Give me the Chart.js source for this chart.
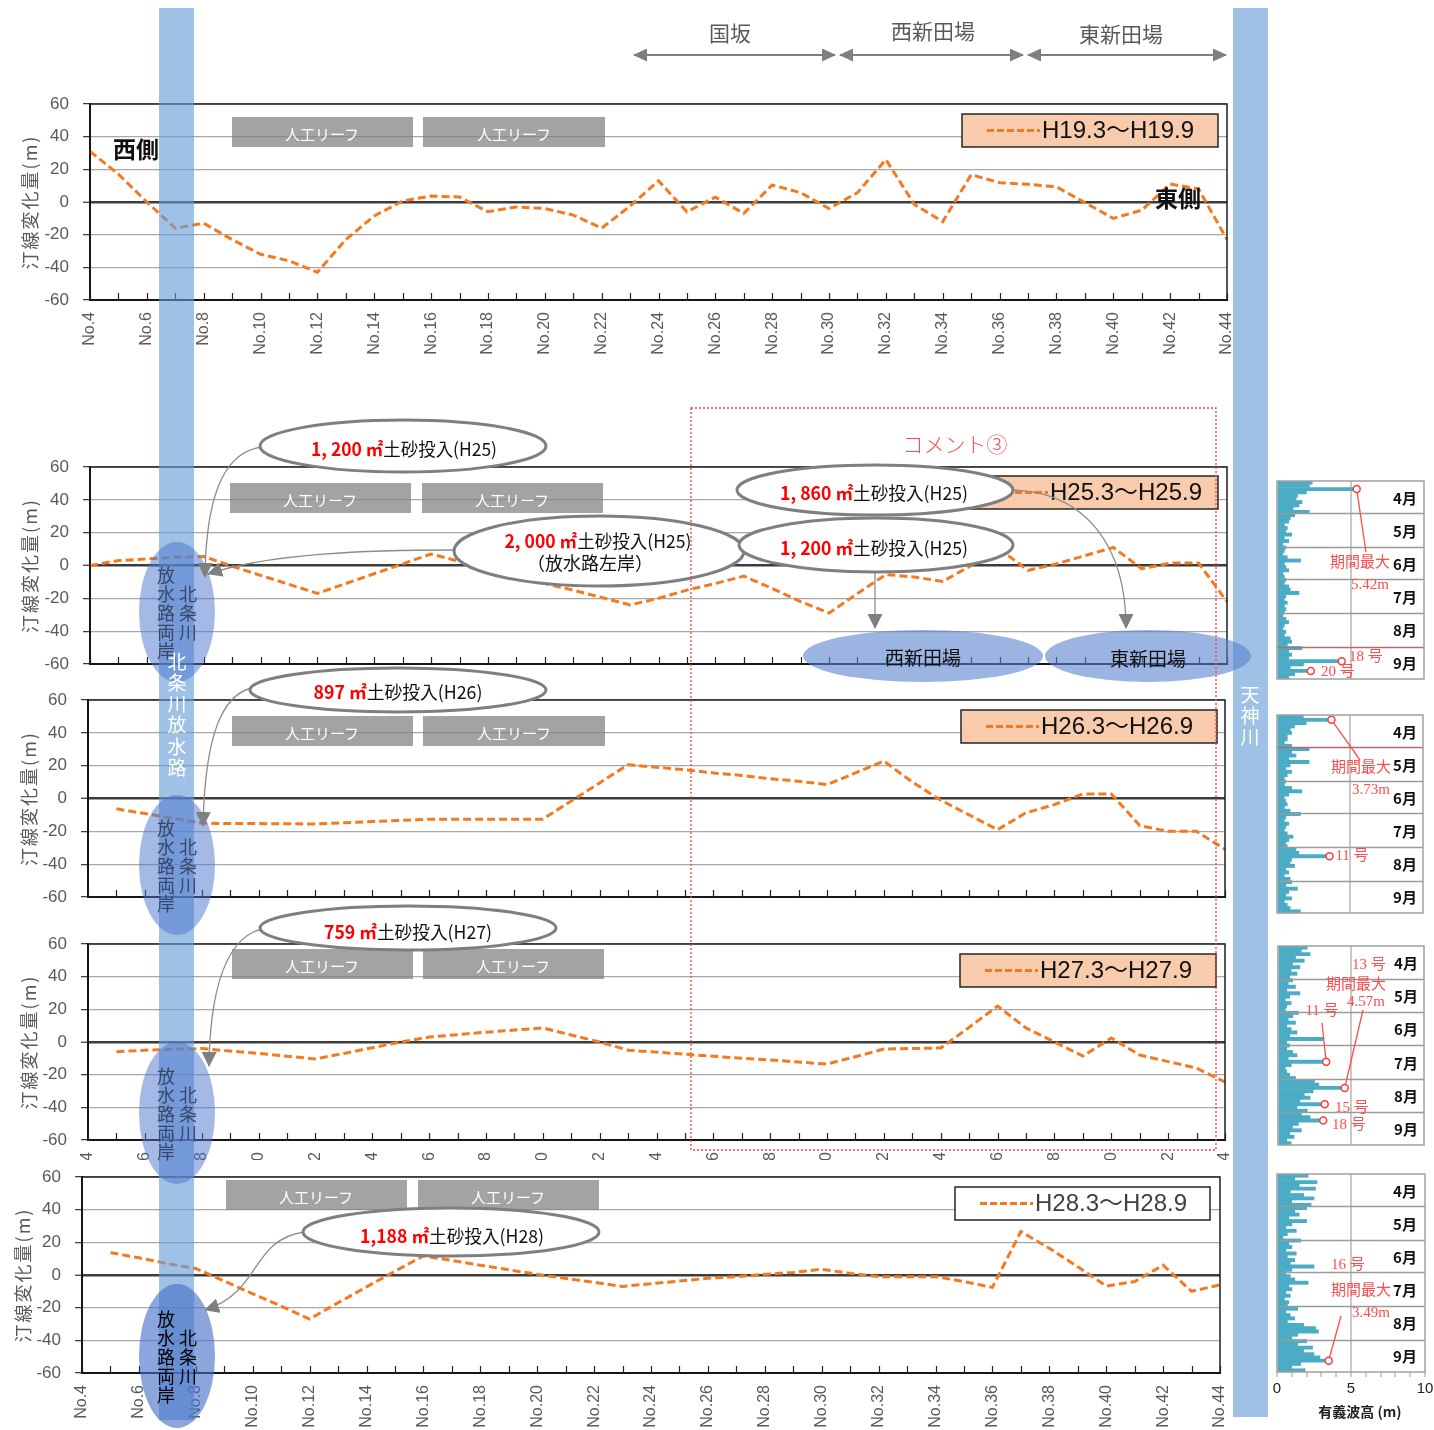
<!DOCTYPE html>
<html><head><meta charset="utf-8">
<script src="https://cdn.jsdelivr.net/npm/chart.js@4.4.1/dist/chart.umd.min.js"></script>
<style>
html,body{margin:0;padding:0;background:#fff;}
#page{position:relative;width:1434px;height:1430px;overflow:hidden;background:#fff;}
.box{position:absolute;}
.box canvas{display:block;}
#over{position:absolute;left:0;top:0;pointer-events:none;}
</style></head><body>
<div id="page">
  <div class="box" style="left:0;top:0"><canvas id="c1" width="1240" height="380"></canvas></div>
  <div class="box" style="left:0;top:380px"><canvas id="c2" width="1240" height="300"></canvas></div>
  <div class="box" style="left:0;top:680px"><canvas id="c3" width="1240" height="240"></canvas></div>
  <div class="box" style="left:0;top:920px"><canvas id="c4" width="1240" height="300"></canvas></div>
  <div class="box" style="left:0;top:1160px;background:#fff"><canvas id="c5" width="1240" height="270"></canvas></div>
  <div class="box" style="left:1270px;top:475px"><canvas id="w1" width="164" height="210"></canvas></div>
  <div class="box" style="left:1270px;top:709px"><canvas id="w2" width="164" height="210"></canvas></div>
  <div class="box" style="left:1270px;top:940px"><canvas id="w3" width="164" height="211"></canvas></div>
  <div class="box" style="left:1270px;top:1168px"><canvas id="w4" width="164" height="262"></canvas></div>

<svg id="over" width="1434" height="1430" viewBox="0 0 1434 1430" font-family="'Noto Sans CJK JP', sans-serif">
  <defs>
    <marker id="ah" markerUnits="userSpaceOnUse" markerWidth="15" markerHeight="15" viewBox="0 0 15 15" refX="14" refY="7.5" orient="auto"><path d="M0,0 L15,7.5 L0,15 z" fill="#7f7f7f"/></marker>
    <marker id="ah2" markerUnits="userSpaceOnUse" markerWidth="14" markerHeight="13" viewBox="0 0 14 13" refX="13" refY="6.5" orient="auto-start-reverse"><path d="M0,0 L14,6.5 L0,13 z" fill="#7f7f7f"/></marker>
  </defs>

  <!-- section arrows -->
  <g stroke="#7f7f7f" stroke-width="2" fill="none">
    <path d="M634,55 L835,55" marker-start="url(#ah2)" marker-end="url(#ah2)"/>
    <path d="M840,55 L1023,55" marker-start="url(#ah2)" marker-end="url(#ah2)"/>
    <path d="M1028,55 L1226,55" marker-start="url(#ah2)" marker-end="url(#ah2)"/>
  </g>
  <g font-size="21" fill="#595959" text-anchor="middle" dominant-baseline="central">
    <text x="730" y="32">国坂</text>
    <text x="933" y="30">西新田場</text>
    <text x="1121" y="33">東新田場</text>
  </g>

  <!-- artificial reefs -->
  <g fill="rgba(128,128,128,0.72)">
    <rect x="232" y="117" width="181" height="30"/><rect x="423" y="117" width="182" height="30"/>
    <rect x="230" y="483" width="181" height="30"/><rect x="422" y="483" width="181" height="30"/>
    <rect x="232" y="716" width="181" height="30"/><rect x="423" y="716" width="182" height="30"/>
    <rect x="232" y="949" width="181" height="30"/><rect x="423" y="949" width="181" height="30"/>
    <rect x="226" y="1180" width="181" height="30"/><rect x="418" y="1180" width="181" height="30"/>
  </g>
  <g font-size="15" fill="#ffffff" text-anchor="middle" dominant-baseline="central">
    <text x="322" y="133">人工リーフ</text><text x="514" y="133">人工リーフ</text>
    <text x="320" y="499">人工リーフ</text><text x="512" y="499">人工リーフ</text>
    <text x="322" y="732">人工リーフ</text><text x="514" y="732">人工リーフ</text>
    <text x="322" y="965">人工リーフ</text><text x="513" y="965">人工リーフ</text>
    <text x="316" y="1196">人工リーフ</text><text x="508" y="1196">人工リーフ</text>
  </g>

  <!-- river bands -->
  <rect x="159" y="8" width="35" height="1412" fill="rgba(100,155,215,0.62)"/>
  <rect x="1233" y="8" width="35" height="1409" fill="rgba(100,155,215,0.62)"/>

  <!-- river mouth ellipses -->
  <g fill="rgba(75,115,205,0.5)">
    <ellipse cx="177" cy="612" rx="38" ry="70"/>
    <ellipse cx="177" cy="865" rx="38" ry="70"/>
    <ellipse cx="177" cy="1113" rx="38" ry="71"/>
  </g>
  <ellipse cx="177" cy="1356" rx="38" ry="72" fill="rgba(70,110,200,0.62)"/>
  <g font-size="18" text-anchor="middle" dominant-baseline="central" fill="#3a4766">
    <text x="166" y="574">放</text><text x="166" y="593">水</text><text x="166" y="612">路</text><text x="166" y="631">両</text><text x="166" y="650">岸</text>
    <text x="188" y="593">北</text><text x="188" y="612">条</text><text x="188" y="631">川</text>
    <text x="166" y="827">放</text><text x="166" y="846">水</text><text x="166" y="865">路</text><text x="166" y="884">両</text><text x="166" y="903">岸</text>
    <text x="188" y="846">北</text><text x="188" y="865">条</text><text x="188" y="884">川</text>
    <text x="166" y="1075">放</text><text x="166" y="1094">水</text><text x="166" y="1113">路</text><text x="166" y="1132">両</text><text x="166" y="1151">岸</text>
    <text x="188" y="1094">北</text><text x="188" y="1113">条</text><text x="188" y="1132">川</text>
  </g>
  <g font-size="18" text-anchor="middle" dominant-baseline="central" fill="#000">
    <text x="166" y="1318">放</text><text x="166" y="1337">水</text><text x="166" y="1356">路</text><text x="166" y="1375">両</text><text x="166" y="1394">岸</text>
    <text x="188" y="1337">北</text><text x="188" y="1356">条</text><text x="188" y="1375">川</text>
  </g>
  <g font-size="19" text-anchor="middle" dominant-baseline="central" fill="#ffffff">
    <text x="177" y="660">北</text><text x="177" y="681">条</text><text x="177" y="702">川</text><text x="177" y="723">放</text><text x="177" y="745">水</text><text x="177" y="766">路</text>
    <text x="1250" y="693">天</text><text x="1250" y="714">神</text><text x="1250" y="735">川</text>
  </g>

  <!-- supply callouts: connectors -->
  <g stroke="#8c8c8c" stroke-width="1.3" fill="none">
    <path d="M262,447 C222,452 206,500 205,577" marker-end="url(#ah)"/>
    <path d="M455,550 C370,550 270,553 208,574" marker-end="url(#ah)"/>
    <path d="M1012,490 C1085,492 1126,545 1126,628" marker-end="url(#ah)"/>
    <path d="M875,572 L875,628" marker-end="url(#ah)"/>
    <path d="M251,688 C222,696 205,735 203,826" marker-end="url(#ah)"/>
    <path d="M262,929 C228,937 210,985 209,1066" marker-end="url(#ah)"/>
    <path d="M304,1232 C250,1240 262,1292 205,1310" marker-end="url(#ah)"/>
  </g>
  <g fill="#ffffff" stroke="#7f7f7f" stroke-width="3">
    <ellipse cx="403" cy="446" rx="143" ry="26"/>
    <ellipse cx="599" cy="551" rx="145" ry="35"/>
    <ellipse cx="875" cy="490" rx="138" ry="25"/>
    <ellipse cx="876" cy="545" rx="137" ry="27"/>
    <ellipse cx="398" cy="690" rx="148" ry="22"/>
    <ellipse cx="408" cy="928" rx="148" ry="22"/>
    <ellipse cx="451" cy="1232" rx="148" ry="24"/>
  </g>
  <g font-size="18" text-anchor="middle" dominant-baseline="central" fill="#111">
    <text x="404" y="448" textLength="186" lengthAdjust="spacingAndGlyphs"><tspan fill="#ff0000" font-weight="bold">1, 200 ㎡</tspan>土砂投入(H25)</text>
    <text x="598" y="540" textLength="187" lengthAdjust="spacingAndGlyphs"><tspan fill="#ff0000" font-weight="bold">2, 000 ㎡</tspan>土砂投入(H25)</text>
    <text x="590" y="562">（放水路左岸）</text>
    <text x="874" y="492" textLength="188" lengthAdjust="spacingAndGlyphs"><tspan fill="#ff0000" font-weight="bold">1, 860 ㎡</tspan>土砂投入(H25)</text>
    <text x="874" y="547" textLength="188" lengthAdjust="spacingAndGlyphs"><tspan fill="#ff0000" font-weight="bold">1, 200 ㎡</tspan>土砂投入(H25)</text>
    <text x="398" y="691" textLength="169" lengthAdjust="spacingAndGlyphs"><tspan fill="#ff0000" font-weight="bold">897 ㎡</tspan>土砂投入(H26)</text>
    <text x="408" y="931" textLength="168" lengthAdjust="spacingAndGlyphs"><tspan fill="#ff0000" font-weight="bold">759 ㎡</tspan>土砂投入(H27)</text>
    <text x="452" y="1235" textLength="184" lengthAdjust="spacingAndGlyphs"><tspan fill="#ff0000" font-weight="bold">1,188 ㎡</tspan>土砂投入(H28)</text>
  </g>

  <!-- target beaches -->
  <g fill="rgba(90,130,205,0.6)">
    <ellipse cx="923" cy="656" rx="120" ry="26"/>
    <ellipse cx="1148" cy="656" rx="103" ry="26"/>
  </g>
  <g font-size="19" text-anchor="middle" dominant-baseline="central" fill="#111">
    <text x="923" y="656">西新田場</text>
    <text x="1148" y="657">東新田場</text>
  </g>

  <!-- comment frame -->
  <rect x="691" y="408" width="525" height="742" fill="none" stroke="#ff3b3b" stroke-width="1.3" stroke-dasharray="2 2"/>
  <text x="955" y="443" font-size="21" font-weight="300" fill="#ff4d4d" text-anchor="middle" dominant-baseline="central">コメント③</text>

  <g font-size="23" font-weight="bold" fill="#111" text-anchor="middle" dominant-baseline="central">
    <text x="136" y="148">西側</text>
    <text x="1178" y="197">東側</text>
  </g>
</svg>
</div>

<script>
// Survey stations along the coast
const stations = ['No.4','No.5','No.6','No.7','No.8','No.9','No.10','No.11','No.12','No.13','No.14',
  'No.15','No.16','No.17','No.18','No.19','No.20','No.21','No.22','No.23','No.24','No.25','No.26',
  'No.27','No.28','No.29','No.30','No.31','No.32','No.33','No.34','No.35','No.36','No.37','No.38',
  'No.39','No.40','No.41','No.42','No.43','No.44'];

// Shoreline change (m), March -> September of each year
const h19 = [31,17,0,-16,-13,-23,-32,-36,-43,-23,-8.5,0.6,3.7,3,-6,-3,-4,-8,-16,-2.5,13,-6,3,-7,10.4,5.7,-4,5.7,26,-1.5,-12,16.7,11.8,10.8,9.3,-0.4,-10,-5,11,8,-23];
const h25 = [0,3,4,5,5.5,-0.5,-6,-11.5,-17,-11,-5,1,7,2.5,-2,-6.5,-11,-15,-19.5,-24,-20,-15,-11,-6.5,-14,-22,-29,-17,-5.5,-7,-9.7,0,10,-3,1,6,11,-2,1.5,1.5,-22];
const h26 = [null,-6.3,-9.2,-12,-15,-15.3,-15.3,-15.4,-15.5,-14.8,-14,-13.3,-12.6,-12.6,-12.6,-12.6,-12.6,-1.5,9.5,20.6,19,17.5,15.6,14,12,10.5,8.5,15.6,22.8,10,-1,-10,-19,-8.7,-3.7,2.8,2.8,-16.5,-20,-20,-31];
const h27 = [null,-6,-5,-4.5,-4,-5.5,-7,-8.7,-10.4,-7,-3.5,0,3,4.5,6,7.3,8.6,4.3,0,-5,-6.2,-7.5,-8.7,-10,-11,-12.3,-13.5,-9,-4.3,-4,-3.7,9,22,8.6,0,-8.6,2.4,-8,-12,-16,-24.5];
const h28 = [null,13.7,10.5,7,4,-3.7,-11.5,-19,-27,-17,-7.3,2.3,11.7,8.9,6,3.2,0.4,-2.1,-4.5,-7,-5.3,-3.7,-2,-1,0.4,1.6,3.5,1,-1,-1,-1,-4,-7.6,26.6,16.4,5,-6.8,-4,6,-10,-6];

// Significant wave height (m), April -> September, one value per 3 days
const wave25 = [2.4,2.2,5.42,2.0,1.4,1.3,1.7,1.5,1.1,2.2, 1.2,0.9,0.8,0.5,0.7,0.6,1.0,0.5,0.8,0.4, 0.6,0.5,0.4,0.7,1.6,0.5,0.6,0.8,0.4,0.5, 0.6,0.5,0.8,0.9,1.5,0.6,0.5,0.7,0.5,0.6, 0.5,0.4,0.6,0.8,0.5,0.4,0.6,0.5,0.9,1.0,0.7, 1.7,0.8,1.0,0.8,4.4,1.8,0.9,2.3,1.2,0.8];
const wave26 = [1.8,3.73,2.0,1.2,0.9,1.0,0.7,0.7,0.5,1.0, 2.2,1.0,1.3,0.8,2.2,0.9,0.6,1.0,0.7,0.5, 0.6,0.5,1.0,1.7,0.8,0.5,0.6,0.7,0.5,0.9, 1.6,0.6,0.5,0.8,0.6,0.5,0.7,1.1,0.8,0.6, 0.7,1.3,1.5,3.6,1.0,0.9,1.2,0.6,0.8,0.5,0.9, 1.0,0.6,1.4,0.8,0.6,1.0,0.5,0.7,0.9,1.6];
const wave27 = [2.0,1.6,2.2,1.2,1.8,1.0,1.5,0.9,1.3,0.8, 1.0,0.7,1.2,0.6,1.5,0.8,0.5,0.9,0.6,0.5, 1.4,1.0,0.7,1.2,0.6,0.9,1.3,0.8,3.1,0.6, 0.8,0.6,1.0,1.3,0.7,3.3,0.9,0.5,0.6,0.8, 1.2,2.5,2.8,4.57,2.4,1.8,2.2,1.5,3.2,1.3,2.0, 1.6,2.2,3.1,1.4,1.0,1.6,0.8,1.1,0.6,0.9];
const wave28 = [2.1,1.2,2.7,1.5,2.6,0.9,1.8,2.5,1.0,2.3, 2.0,1.2,1.5,0.8,2.0,1.0,0.6,1.3,0.7,0.4, 1.6,0.8,1.0,0.6,1.3,0.7,1.2,0.9,2.5,1.0, 0.6,0.9,1.2,2.1,0.8,1.0,0.6,0.9,0.5,0.8, 0.7,1.4,0.6,0.9,1.2,0.7,1.8,2.6,2.8,1.4,1.0, 2.0,1.4,2.4,1.8,2.5,2.9,3.49,1.6,1.0,1.9];

// Typhoon / period-maximum slots marked with circles
const peak25 = [2, 55, 58];
const peak26 = [1, 43];
const peak27 = [35, 43, 48, 53];
const peak28 = [57];

const months = ['4月','5月','6月','7月','8月','9月'];
const monthDays = [30, 31, 30, 31, 31, 30];

const ORANGE = '#f57a1f';
const SANS = '"Liberation Sans", Arial, sans-serif';
const CJK = '"Noto Sans CJK JP", sans-serif';

const framePlugin = {
  id: 'frame',
  afterDraw(chart, args, o) {
    const {ctx, chartArea: a} = chart;
    const x = chart.scales.x;
    ctx.save();
    ctx.strokeStyle = '#1e1e1e'; ctx.lineWidth = 1.5;
    ctx.strokeRect(a.left, a.top, a.width, a.height);
    ctx.strokeStyle = '#222'; ctx.lineWidth = 1.2;
    x.ticks.forEach((t, i) => {
      const px = Math.round(x.getPixelForTick(i)) + 0.5;
      ctx.beginPath(); ctx.moveTo(px, a.bottom); ctx.lineTo(px, a.bottom - 7); ctx.stroke();
    });
    ctx.save();
    ctx.translate(o.titleX, (a.top + a.bottom) / 2);
    ctx.rotate(-Math.PI / 2);
    ctx.fillStyle = '#595959'; ctx.font = '18px ' + CJK;
    ctx.letterSpacing = '2px';
    ctx.textAlign = 'center'; ctx.textBaseline = 'middle';
    ctx.fillText('汀線変化量(m)', 0, 0);
    ctx.restore();
    const L = o.legend;
    const bx = a.right - L.right - L.w, by = a.top + L.top;
    ctx.fillStyle = L.fill; ctx.fillRect(bx, by, L.w, L.h);
    ctx.strokeStyle = '#262626'; ctx.lineWidth = 1.5; ctx.strokeRect(bx, by, L.w, L.h);
    const ds = chart.data.datasets[0];
    ctx.strokeStyle = ds.borderColor; ctx.lineWidth = 3; ctx.setLineDash([7, 3]);
    ctx.beginPath(); ctx.moveTo(bx + 25, by + L.h / 2); ctx.lineTo(bx + 78, by + L.h / 2); ctx.stroke();
    ctx.setLineDash([]);
    ctx.fillStyle = L.color; ctx.font = '24px ' + SANS + ',"Noto Sans CJK JP"';
    ctx.textAlign = 'left'; ctx.textBaseline = 'middle';
    ctx.fillText(ds.label, bx + 80, by + L.h / 2 + 1);
    ctx.restore();
  }
};

function shoreChart(id, label, values, c) {
  return new Chart(document.getElementById(id), {
    type: 'line',
    data: { labels: stations, datasets: [{
      label, data: values, borderColor: ORANGE, borderWidth: 3, borderDash: [8, 4],
      pointRadius: 0, fill: false, tension: 0
    }]},
    options: {
      responsive: false, animation: false, devicePixelRatio: 1,
      layout: { padding: { top: c.padTop, right: c.padRight, left: 0, bottom: 0 } },
      plugins: { legend: { display: false }, tooltip: { enabled: false },
        frame: { titleX: c.titleX, legend: c.legend } },
      scales: {
        x: {
          type: 'category', offset: false,
          afterFit(s) { s.height = c.xH; s.paddingLeft = 0; s.paddingRight = 0; },
          grid: { display: false, drawTicks: false },
          border: { display: true, color: '#000', width: 2 },
          ticks: { display: c.showX, autoSkip: false, minRotation: 90, maxRotation: 90, padding: 12,
            color: '#595959', font: { family: SANS, size: 16 },
            callback(v, i) { return i % 2 === 0 ? stations[i] : ''; } }
        },
        y: {
          min: -60, max: 60,
          afterFit(s) { s.width = c.yW; s.paddingTop = 0; s.paddingBottom = 0; },
          border: { display: true, color: '#000', width: 2 },
          ticks: { stepSize: 10, padding: 14, color: '#595959', font: { family: SANS, size: 17 },
            callback(v) { return v % 20 === 0 ? String(v) : ''; } },
          grid: {
            color(ctx) { const v = ctx.tick.value; return v === 0 ? '#3c3c3c' : (v % 20 === 0 ? '#a8a8a8' : 'rgba(0,0,0,0)'); },
            lineWidth(ctx) { return ctx.tick.value === 0 ? 2.5 : 1.3; },
            tickColor: '#333', tickLength: 7, tickWidth: 1.2, drawTicks: true
          }
        }
      }
    },
    plugins: [framePlugin]
  });
}

const peachLegend = (top, right) => ({ w: 256, h: 33, top, right, fill: '#f8cbad', color: '#111' });
shoreChart('c1', 'H19.3～H19.9', h19, { padTop: 104, padRight: 13, xH: 80, yW: 90, showX: true, titleX: 30, legend: peachLegend(10, 9) });
shoreChart('c2', 'H25.3～H25.9', h25, { padTop: 87, padRight: 13, xH: 16, yW: 90, showX: false, titleX: 30, legend: { w: 248, h: 33, top: 9, right: 9, fill: '#f8cbad', color: '#111' } });
shoreChart('c3', 'H26.3～H26.9', h26, { padTop: 20, padRight: 15, xH: 23, yW: 88, showX: false, titleX: 29, legend: peachLegend(10, 8) });
shoreChart('c4', 'H27.3～H27.9', h27, { padTop: 24, padRight: 15, xH: 80, yW: 88, showX: true, titleX: 29, legend: peachLegend(10, 9) });
shoreChart('c5', 'H28.3～H28.9', h28, { padTop: 17, padRight: 20, xH: 57, yW: 82, showX: true, titleX: 23, legend: { w: 255, h: 33, top: 10, right: 10, fill: '#ffffff', color: '#404040' } });

// Wave height panels
const wavePlugin = {
  id: 'wave',
  afterDatasetsDraw(chart, args, o) {
    const {ctx, chartArea: a} = chart;
    const total = monthDays.reduce((s, d) => s + d, 0);
    ctx.save();
    let acc = 0;
    monthDays.slice(0, -1).forEach((d, i) => {
      acc += d;
      const y = Math.round(a.top + acc / total * a.height) + 0.5;
      ctx.strokeStyle = (o.redLines || []).includes(i) ? '#b86a6a' : '#9a9a9a';
      ctx.lineWidth = 1.5;
      ctx.beginPath(); ctx.moveTo(a.left, y); ctx.lineTo(a.right, y); ctx.stroke();
    });
    ctx.restore();
  },
  afterDraw(chart, args, o) {
    const {ctx, chartArea: a, scales} = chart;
    const total = monthDays.reduce((s, d) => s + d, 0);
    const vals = chart.data.datasets[1].data;
    ctx.save();
    ctx.strokeStyle = '#a0a0a0'; ctx.lineWidth = 1.5;
    ctx.strokeRect(a.left, a.top, a.width, a.height);
    ctx.fillStyle = '#111'; ctx.font = 'bold 15px ' + CJK;
    ctx.textAlign = 'center'; ctx.textBaseline = 'middle';
    let acc = 0;
    months.forEach((m, i) => {
      const mid = acc + monthDays[i] / 2; acc += monthDays[i];
      ctx.fillText(m, a.left + 128, a.top + mid / total * a.height + 1);
    });
    ctx.strokeStyle = '#ff4d4d'; ctx.lineWidth = 1.3;
    (o.leaders || []).forEach(([dx, dy, k]) => {
      const px = scales.x.getPixelForValue(vals[k]);
      const py = scales.y.getPixelForValue(k);
      const ang = Math.atan2(a.top + dy - py, a.left + dx - px);
      ctx.beginPath(); ctx.moveTo(a.left + dx, a.top + dy);
      ctx.lineTo(px + 3.5 * Math.cos(ang), py + 3.5 * Math.sin(ang)); ctx.stroke();
    });
    ctx.fillStyle = '#ff4d4d'; ctx.font = '15px "Liberation Serif", "Noto Sans CJK JP", serif';
    (o.notes || []).forEach(([t, dx, dy]) => ctx.fillText(t, a.left + dx, a.top + dy));
    if (o.axisTitle) {
      ctx.fillStyle = '#222'; ctx.font = 'bold 14px ' + CJK;
      ctx.fillText(o.axisTitle, a.left + 83, a.bottom + 40);
    }
    ctx.restore();
  }
};

function waveChart(id, values, peaks, c) {
  const slots = values.map((v, k) => k);
  const marks = values.map((v, k) => peaks.includes(k) ? v : null);
  return new Chart(document.getElementById(id), {
    type: 'bar',
    data: { labels: slots, datasets: [
      { type: 'line', indexAxis: 'y', data: marks, showLine: false, pointRadius: 3.5, pointBorderWidth: 1.5,
        pointBorderColor: '#ff3b3b', pointBackgroundColor: '#ffffff', order: 0 },
      { type: 'bar', data: values, backgroundColor: '#4bacc6', barPercentage: 1, categoryPercentage: 1, order: 1 }
    ]},
    options: {
      indexAxis: 'y', responsive: false, animation: false, devicePixelRatio: 1,
      layout: { padding: c.pad },
      plugins: { legend: { display: false }, tooltip: { enabled: false }, wave: c.wave },
      scales: {
        x: {
          min: 0, max: 10,
          afterFit(s) { s.height = c.xH; s.paddingLeft = 0; s.paddingRight = 0; },
          border: { display: false },
          grid: {
            color(ctx) { return ctx.tick.value === 5 ? '#c8c8c8' : 'rgba(0,0,0,0)'; },
            lineWidth: 2, drawTicks: c.axis, tickLength: 5, tickColor: '#9a9a9a', tickWidth: 1
          },
          ticks: { display: c.axis, stepSize: 1, autoSkip: false, minRotation: 0, maxRotation: 0, padding: 3,
            color: '#222', font: { family: SANS, size: 15 },
            callback(v) { return v % 5 === 0 ? String(v) : ''; } }
        },
        y: { display: false, offset: true }
      }
    },
    plugins: [wavePlugin]
  });
}

const fmt = v => v.toFixed(2) + 'm';
waveChart('w1', wave25, peak25, { pad: { left: 7, right: 10, top: 6, bottom: 6 }, xH: 0, axis: false,
  wave: { redLines: [4], leaders: [[89, 71, 2]],
    notes: [['期間最大', 83, 82], [fmt(wave25[2]), 93, 104], ['18 号', 89, 176], ['20 号', 61, 191]] } });
waveChart('w2', wave26, peak26, { pad: { left: 7, right: 11, top: 6, bottom: 6 }, xH: 0, axis: false,
  wave: { redLines: [0], leaders: [[83, 45, 1]],
    notes: [['期間最大', 84, 53], [fmt(wave26[1]), 94, 75], ['11 号', 75, 141]] } });
waveChart('w3', wave27, peak27, { pad: { left: 8, right: 10, top: 6, bottom: 6 }, xH: 0, axis: false,
  wave: { leaders: [[44, 77, 35], [85, 64, 43]],
    notes: [['13 号', 91, 19], ['期間最大', 78, 39], [fmt(wave27[43]), 88, 56], ['11 号', 44, 65], ['15 号', 74, 162], ['18 号', 71, 179]] } });
waveChart('w4', wave28, peak28, { pad: { left: 7, right: 9, top: 6, bottom: 0 }, xH: 58, axis: true,
  wave: { leaders: [[64, 142, 57]], axisTitle: '有義波高 (m)',
    notes: [['16 号', 71, 91], ['期間最大', 84, 117], [fmt(wave28[57]), 94, 139]] } });
</script>
</body></html>
